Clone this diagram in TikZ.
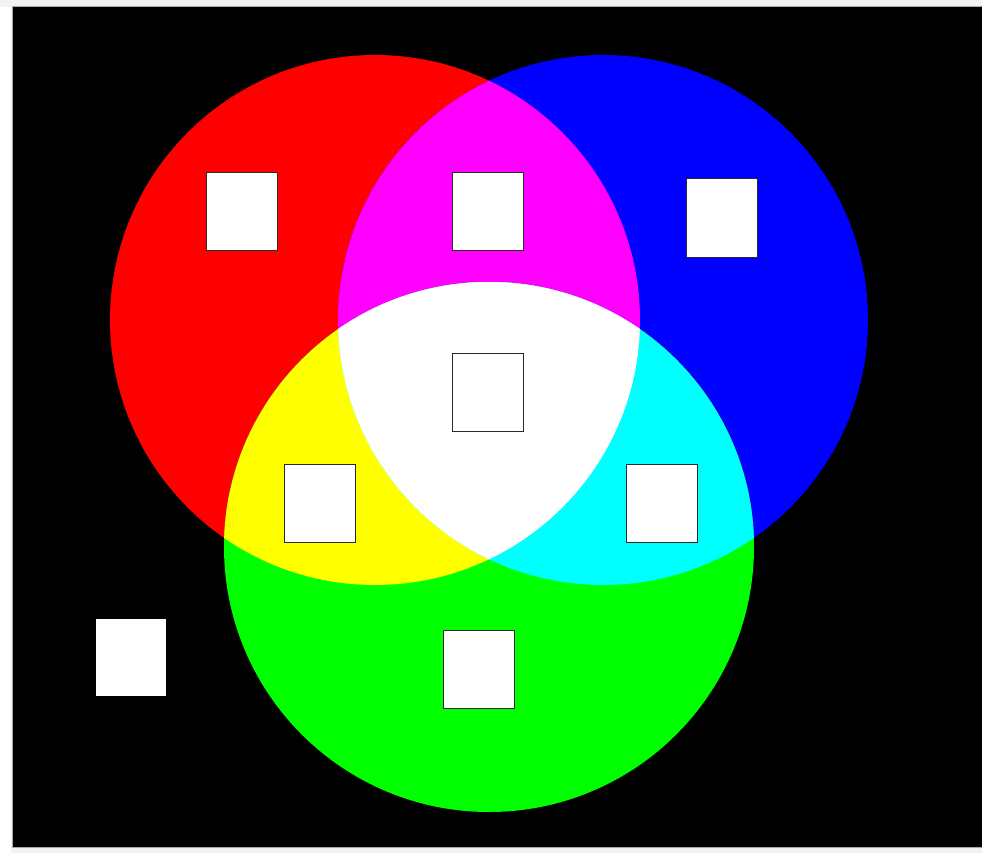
\documentclass[tikz,border=0pt]{standalone}
\definecolor{pagebg}{HTML}{F2F2F2}
\definecolor{framegray}{HTML}{A8A8A8}
\definecolor{boxline}{HTML}{2A2A2A}
\definecolor{cred}{HTML}{FF0000}
\definecolor{cblue}{HTML}{0000FF}
\definecolor{cgreen}{HTML}{00FF00}
\definecolor{cmag}{HTML}{FF00FF}
\definecolor{cyel}{HTML}{FFFF00}
\definecolor{ccyan}{HTML}{00FFFF}
\tikzset{
  whitebox/.style={rectangle, fill=white, draw=boxline, line width=1pt,
    minimum width=71pt, minimum height=78pt, inner sep=0pt, outer sep=0pt},
}
\begin{document}
\begin{tikzpicture}[x=1pt,y=-1pt]
  \useasboundingbox (0,0) rectangle (982,853);
  \fill[pagebg] (0,0) rectangle (982,853);
  \fill[white] (0,7) rectangle (11,853);
  \fill[black] (12,7) rectangle (982,847);
  \draw[framegray, line width=1pt] (12,847) -- (12,6.5) -- (982,6.5);
  \draw[framegray, line width=1pt] (12,847.5) -- (982,847.5);
  % circles
  \def\rc{(375,320) circle[radius=265]}
  \def\bc{(603,320) circle[radius=265]}
  \def\gc{(489,547) circle[radius=265]}
  \fill[cred] \rc;
  \fill[cblue] \bc;
  \fill[cgreen] \gc;
  \begin{scope}
    \clip \rc;
    \fill[cmag] \bc;
    \fill[cyel] \gc;
    \clip \bc;
    \fill[white] \gc;
  \end{scope}
  \begin{scope}
    \clip \bc;
    \clip \gc;
    \fill[ccyan] \bc;
    \clip \rc;
    \fill[white] \bc;
  \end{scope}
  % boxes
  \node[whitebox] (rbox) at (241.5,211.5) {};
  \node[whitebox] (mbox) at (488,211.5) {};
  \node[whitebox] (bbox) at (722,218) {};
  \node[whitebox] (wbox) at (487.5,392.5) {};
  \node[whitebox] (ybox) at (320,503) {};
  \node[whitebox] (cbox) at (662,503) {};
  \node[whitebox] (gbox) at (479,669.5) {};
  \node[whitebox, draw=black] (kbox) at (130.5,657.5) {};
\end{tikzpicture}
\end{document}
